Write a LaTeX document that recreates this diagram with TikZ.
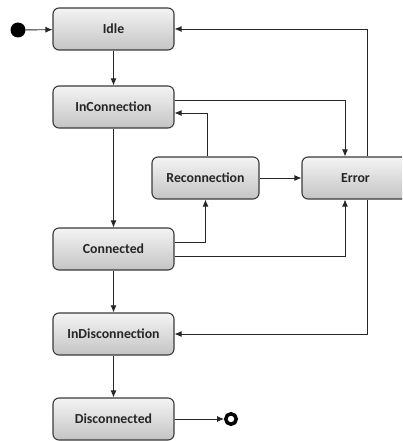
\documentclass[tikz,border=0pt]{standalone}
\usepackage{fontspec}
\setmainfont{Carlito}
\usetikzlibrary{arrows.meta}

\definecolor{boxline}{HTML}{3A3A3A}
\definecolor{boxtop}{HTML}{F4F4F4}
\definecolor{boxbottom}{HTML}{C4C4C4}

\tikzset{
    state/.style={draw=boxline, line width=1.1pt, rounded corners=6pt,
        top color=boxtop, bottom color=boxbottom,
        minimum width=121pt, minimum height=42pt,
        font=\fontsize{13.8}{15}\selectfont\bfseries, text=black!85},
    substate/.style={state, minimum width=107pt},
    arr/.style={draw=black!85, line width=0.9pt, -{Latex[length=7pt,width=6pt]}},
    initstate/.style={circle, fill=black, inner sep=0pt, minimum size=15pt},
    finalstate/.style={circle, draw=black, line width=3.5pt, inner sep=0pt, minimum size=10.5pt}
}

\begin{document}
\begin{tikzpicture}[x=1pt, y=-1pt]

    \useasboundingbox (0,0) rectangle (402,441);
    \clip (0,0) rectangle (402,441);

    % States of the main column
    \node[state] (idle)   at (113.5,29)  {Idle};
    \node[state] (inconn) at (113.5,107) {InConnection};
    \node[state] (conn)   at (113.5,249) {Connected};
    \node[state] (indisc) at (113.5,334) {InDisconnection};
    \node[state] (disc)   at (113.5,419) {Disconnected};

    % Side states
    \node[substate] (reconn) at (205.5,178) {Reconnection};
    \node[substate] (error)  at (355.5,178) {Error};

    % Start and end
    \node[initstate]  (start) at (18,30) {};
    \node[finalstate] (stop)  at (231,419) {};

    % Main flow
    \draw[arr] (start) -- (idle);
    \draw[arr] (idle) -- (inconn);
    \draw[arr] (inconn) -- (conn);
    \draw[arr] (conn) -- (indisc);
    \draw[arr] (indisc) -- (disc);
    \draw[arr] (disc) -- (stop);

    % Reconnection loop
    \draw[arr] ([yshift=7pt]conn.east) -| (reconn.south);
    \draw[arr] ([xshift=1.5pt]reconn.north) |- ([yshift=-6pt]inconn.east);
    \draw[arr] (reconn) -- (error);

    % Into and out of Error
    \draw[arr] ([yshift=7pt]inconn.east) -| ([xshift=-10.5pt]error.north);
    \draw[arr] ([yshift=-7pt]conn.east) -| ([xshift=-10.5pt]error.south);
    \draw[arr] ([xshift=11.5pt]error.north) |- (idle.east);
    \draw[arr] ([xshift=11.5pt]error.south) |- (indisc.east);

\end{tikzpicture}
\end{document}
